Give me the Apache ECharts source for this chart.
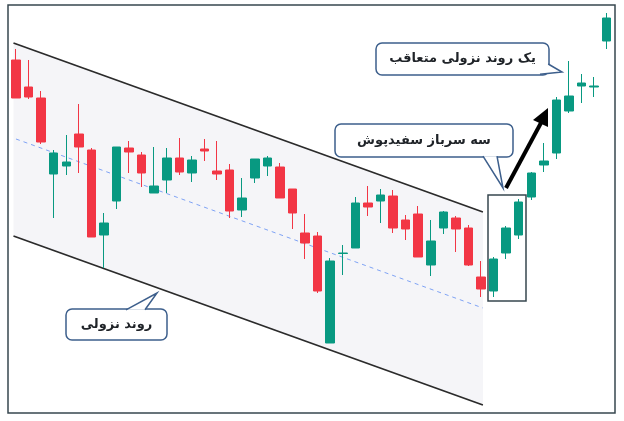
<!DOCTYPE html>
<html><head><meta charset="utf-8">
<script src="https://cdn.jsdelivr.net/npm/echarts@6/dist/echarts.min.js"></script>
<style>html,body{margin:0;padding:0;background:#fff}#c{width:624px;height:421px}</style>
</head><body><div id="c"></div>
<script>
// candles: [open, close, low, high]
const categories = Array.from({length:48},(_, i)=>String(i+1));
const candles = [
[361,323,323,372],[334,324,322,361],[323,279,277,330],[247,268,203,271],[255,259,246,286],
[287,274,248,317],[271,184,184,273],[186,198,153,208],[220,274,212,274],[273,269,248,280],
[266,248,234,269],[228,235,228,274],[241,263,228,273],[263,249,246,283],[248,261,239,265],
[272,270,260,282],[250,247,241,280],[251,210,203,257],[211,223,204,243],[243,262,238,262],
[255,263,245,265],[254,223,223,258],[232,208,192,232],[188,178,162,207],[185,130,128,189],
[78,160,78,163],[167.5,168,146,176],[173,218,173,224],[218,214,205,235],[220,226,198,232],
[225,193,188,231],[201,192,181,206],[207,164,164,215],[156,180,145,201],[193,209,187,210],
[203,192,169,205],[193,156,155,196],[144,132,124,160],[130,162,124,164],[168,193,162,195],
[186,219,182,222],[224,248,221,249],[256,260,249,278],[268,321,262,324],[310,325,308,360],
[335,338,318,347],[334,335,324,344],[380,403,372,408]
];
const upperLine = [[-0.2,378],[37.15,209]];
const lowerLine = [[-0.2,185],[37.15,16]];
const midLine = [[0,282],[37.15,113]];
const labels = ['روند نزولی','یک روند نزولی متعاقب','سه سرباز سفیدپوش'];

const chart = echarts.init(document.getElementById('c'));
const txt = {fontFamily:'DejaVu Sans',fontSize:13,fontWeight:'bold',fill:'#1f2328'};
const blue = '#3d5f8c';
function callout(x,y,w,h,tail,text){
  return {type:'group',children:[
    {type:'rect',shape:{x,y,width:w,height:h,r:6},style:{fill:'#fff',stroke:blue,lineWidth:1.5},z:10},
    {type:'polygon',shape:{points:tail},style:{fill:'#fff'},z:11},
    {type:'polyline',shape:{points:[tail[0],tail[1],tail[2]]},style:{stroke:blue,lineWidth:1.5,fill:null},z:12},
    {type:'text',x:x+w/2,y:y+h/2,style:Object.assign({text,align:'center',verticalAlign:'middle'},txt),z:13}
  ]};
}
chart.setOption({
  animation:false,
  grid:{left:9.7,right:11,top:0,bottom:0},
  xAxis:[{type:'category',data:categories,show:false},
         {type:'value',min:-0.5,max:47.5,show:false}],
  yAxis:{type:'value',min:0,max:421,show:false},
  series:[
    {type:'custom',xAxisIndex:1,data:[0],z:0,silent:true,renderItem:(p,api)=>({
      type:'polygon',
      shape:{points:[api.coord(upperLine[0]),api.coord(upperLine[1]),api.coord(lowerLine[1]),api.coord(lowerLine[0])]},
      style:{fill:'#f5f5f8'}})},
    {type:'line',xAxisIndex:1,data:upperLine,symbol:'none',z:1,lineStyle:{color:'#2b2b2b',width:1.8}},
    {type:'line',xAxisIndex:1,data:lowerLine,symbol:'none',z:1,lineStyle:{color:'#2b2b2b',width:1.8}},
    {type:'line',xAxisIndex:1,data:midLine,symbol:'none',z:1,lineStyle:{color:'#7fa3f5',width:1,type:[4,4]}},
    {type:'candlestick',data:candles,barWidth:9,z:3,itemStyle:{color:'#089981',color0:'#f23645',borderColor:'#089981',borderColor0:'#f23645',borderWidth:1}}
  ],
  graphic:[
    {type:'rect',shape:{x:8,y:5,width:607,height:408},style:{fill:null,stroke:'#37474f',lineWidth:1.5},z:5},
    {type:'rect',shape:{x:488,y:195,width:38,height:106},style:{fill:null,stroke:'#37474f',lineWidth:1.5},z:5},
    {type:'line',shape:{x1:506,y1:188,x2:542,y2:121},style:{stroke:'#000',lineWidth:4},z:6},
    {type:'polygon',shape:{points:[[548,108],[533,120],[548,127]]},style:{fill:'#000'},z:6},
    callout(66,309,101,31,[[126,309.8],[157,293],[145,309.8]],labels[0]),
    callout(376,43,173,32,[[540,74.2],[562,72],[548.2,64]],labels[1]),
    callout(335,124,178,33,[[483,156.2],[503,188],[497,156.2]],labels[2])
  ]
});
</script></body></html>
